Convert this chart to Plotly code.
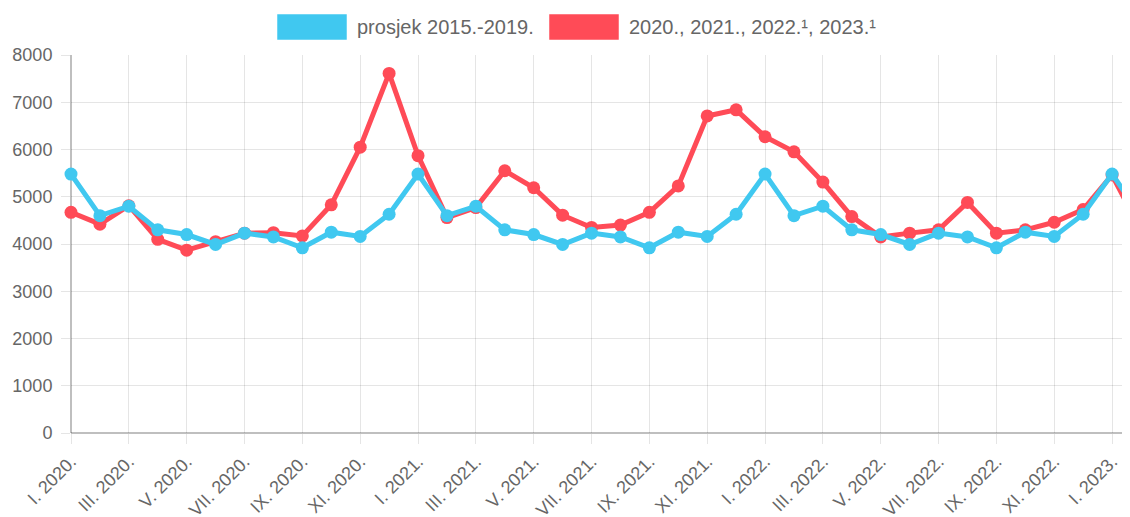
import plotly.graph_objects as go

months = ["I.", "II.", "III.", "IV.", "V.", "VI.", "VII.", "VIII.", "IX.", "X.", "XI.", "XII."]
years = ["2020.", "2021.", "2022.", "2023."]
labels = [f"{m} {y}" for y in years for m in months][:38]

avg_2015_2019 = [5480, 4600, 4800, 4300, 4200, 3990, 4230, 4150, 3920, 4250, 4160, 4630,
                 5480, 4600, 4800, 4300, 4200, 3990, 4230, 4150, 3920, 4250, 4160, 4630,
                 5480, 4600, 4800, 4300, 4200, 3990, 4230, 4150, 3920, 4250, 4160, 4630,
                 5480, 4600]
actual = [4670, 4420, 4810, 4100, 3870, 4050, 4230, 4240, 4170, 4830, 6050, 7610,
          5870, 4560, 4770, 5550, 5190, 4610, 4350, 4400, 4670, 5230, 6710, 6840,
          6270, 5950, 5310, 4580, 4150, 4230, 4300, 4880, 4230, 4300, 4460, 4730,
          5460, 4290]

series_names = ["prosjek 2015.-2019.", "2020., 2021., 2022.¹, 2023.¹"]
colors = ["#40c8f0", "#ff4b57"]

x = list(range(len(labels)))
FONT = "Liberation Sans, Arial, sans-serif"

OFF = 8  # default page body margin
FW, FH = 1130 - OFF, 517 - OFF
L, T, W, H = 71 - OFF, 55 - OFF, 1130 - 71, 378  # plot area in figure pixels

fig = go.Figure()
for name, vals, col in [(series_names[1], actual, colors[1]), (series_names[0], avg_2015_2019, colors[0])]:
    fig.add_trace(go.Scatter(x=x, y=vals, name=name, mode="lines+markers",
                             line=dict(color=col, width=5),
                             marker=dict(color=col, size=13),
                             cliponaxis=False, showlegend=False))

tickvals = x[::2]
ticktext = labels[::2]

fig.update_layout(
    width=FW, height=FH,
    margin=dict(l=L, r=FW - L - W, t=T, b=FH - T - H, autoexpand=False),
    paper_bgcolor="white", plot_bgcolor="white",
    font=dict(family=FONT, size=18, color="#666666"),
    xaxis=dict(range=[0, 36.62], tickmode="array", tickvals=tickvals, ticktext=ticktext,
               tickangle=-45, showgrid=True, gridcolor="rgba(0,0,0,0.1)", gridwidth=1,
               ticks="outside", ticklen=10, tickcolor="rgba(0,0,0,0.1)",
               showline=False, zeroline=False, automargin=False,
               tickfont=dict(family=FONT, size=18, color="#666666")),
    yaxis=dict(range=[0, 8000], dtick=1000, showgrid=True, gridcolor="rgba(0,0,0,0.1)",
               ticks="outside", ticklen=9, tickcolor="rgba(0,0,0,0.1)",
               ticklabelstandoff=5,
               zeroline=False, showline=False, automargin=False,
               tickfont=dict(family=FONT, size=18, color="#666666")),
)

# axis lines (Chart.js-like darker zero lines)
fig.add_shape(type="line", xref="paper", yref="paper", x0=0, x1=0, y0=0, y1=1,
              line=dict(color="rgba(0,0,0,0.25)", width=2), layer="below")
fig.add_shape(type="line", xref="paper", yref="paper", x0=0, x1=1, y0=0, y1=0,
              line=dict(color="rgba(0,0,0,0.25)", width=2), layer="below")

def px_x(p):  # page pixel -> paper
    return (p - OFF - L) / W

def px_y(p):
    return (T + H - (p - OFF)) / H

# custom legend
legend_items = [(277, 355, series_names[0], colors[0]), (549, 627, series_names[1], colors[1])]
for bx, tx, name, col in legend_items:
    fig.add_shape(type="rect", xref="paper", yref="paper",
                  x0=px_x(bx), x1=px_x(bx + 70), y0=px_y(40), y1=px_y(14),
                  line=dict(color="rgba(255,255,255,0.5)", width=1), fillcolor=col)
    fig.add_annotation(xref="paper", yref="paper", x=px_x(tx), y=px_y(27),
                       text=name, showarrow=False, xanchor="left", yanchor="middle",
                       font=dict(family=FONT, size=20, color="#666666"))

fig.write_html("out.html")
